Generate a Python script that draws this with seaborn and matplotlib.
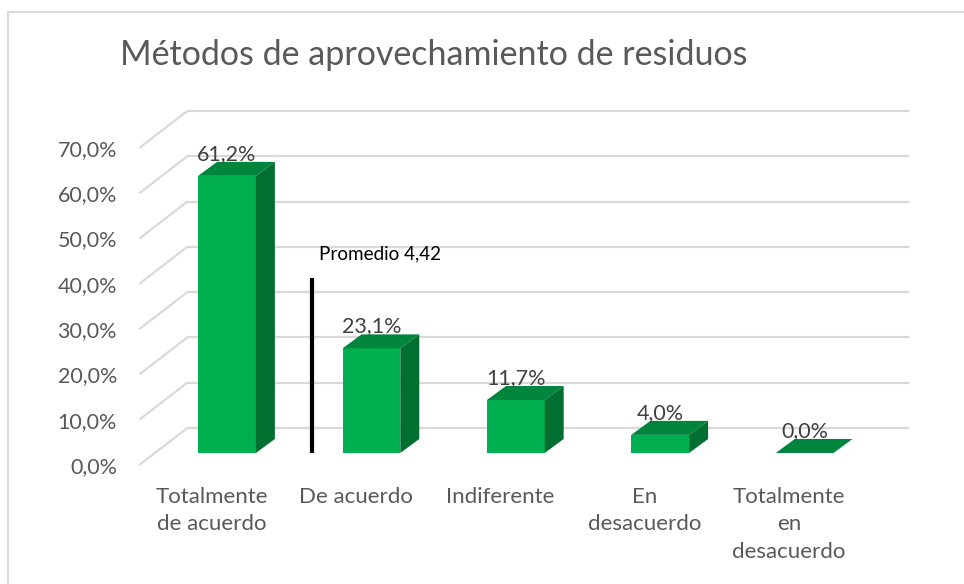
import matplotlib
matplotlib.use("Agg")
import matplotlib.pyplot as plt
import matplotlib.transforms as mtransforms
from matplotlib.lines import Line2D
from matplotlib.patches import Polygon
import seaborn as sns
import pandas as pd

# ---- data ----
categories = ["Totalmente\nde acuerdo", "De acuerdo", "Indiferente", "En\ndesacuerdo",
              "Totalmente\nen\ndesacuerdo"]
values = [61.2, 23.1, 11.7, 4.0, 0.0]
value_labels = ["61,2%", "23,1%", "11,7%", "4,0%", "0,0%"]
yticks = [0, 10, 20, 30, 40, 50, 60, 70]
ytick_labels = ["0,0%", "10,0%", "20,0%", "30,0%", "40,0%", "50,0%", "60,0%", "70,0%"]
title = "Métodos de aprovechamiento de residuos"
note_text = "Promedio 4,42"
note_line_x = 0.587
note_line_top = 38.6

sns.set_theme(style="white")
plt.rcParams["font.family"] = ["Lato", "DejaVu Sans"]

W, H = 964, 584
fig = plt.figure(figsize=(W / 100, H / 100), dpi=100)
fig.patch.set_facecolor("white")

# front plane of the 3-D box (pixels)
left_px, right_px = 139.3, 861.3
bot_px, top_px = 465, 148
ax = fig.add_axes([left_px / W, (H - bot_px) / H, (right_px - left_px) / W, (bot_px - top_px) / H])
ax.set_xlim(-0.5, 4.5)
ax.set_ylim(0, 70)
ax.patch.set_alpha(0)
for s in ax.spines.values():
    s.set_visible(False)

px_per_x = (right_px - left_px) / 5
px_per_y = (bot_px - top_px) / 70

# depth of back wall in pixels
back_dx, back_dy = 48, 37
bdx, bdy = back_dx / px_per_x, back_dy / px_per_y
grid_c = "#d9d9d9"
for v in yticks:
    ax.plot([-0.5 + bdx, 4.5 + bdx], [v + bdy, v + bdy], color=grid_c, lw=1.6,
            clip_on=False, zorder=0, solid_capstyle="butt")
    ax.plot([-0.5, -0.5 + bdx], [v, v + bdy], color=grid_c, lw=1.6,
            clip_on=False, zorder=0, solid_capstyle="butt")

df = pd.DataFrame({"cat": categories, "val": values})
sns.barplot(data=df, x="cat", y="val", color="#00b050", saturation=1, width=0.40,
            ax=ax, zorder=3)

bar_tr = mtransforms.offset_copy(ax.transData, fig=fig, x=15.5, y=12, units="dots")
ddx, ddy = 19 / px_per_x, 14 / px_per_y
top_c, side_c = "#00853d", "#006f30"
for p, lab in zip(ax.patches, value_labels):
    p.set_transform(bar_tr)
    p.set_clip_on(False)
    p.set_edgecolor("none")
    x0 = p.get_x()
    x1 = x0 + p.get_width()
    h = p.get_height()
    ax.add_patch(Polygon([(x0, h), (x1, h), (x1 + ddx, h + ddy), (x0 + ddx, h + ddy)],
                         closed=True, facecolor=top_c, edgecolor="none",
                         transform=bar_tr, clip_on=False, zorder=4))
    if h > 0:
        ax.add_patch(Polygon([(x1, 0), (x1 + ddx, ddy), (x1 + ddx, h + ddy), (x1, h)],
                             closed=True, facecolor=side_c, edgecolor="none",
                             transform=bar_tr, clip_on=False, zorder=4))
    ax.annotate(lab, xy=((x0 + x1) / 2, h), xycoords=bar_tr, xytext=(0, 16),
                textcoords="offset pixels", ha="center", va="baseline",
                fontsize=15.5, color="#404040", zorder=6)

# average marker
ax.plot([note_line_x, note_line_x], [0, note_line_top], color="black", lw=3,
        transform=bar_tr, clip_on=False, solid_capstyle="butt", zorder=5)
ax.text(note_line_x + 0.05, note_line_top + 5.3, note_text, transform=bar_tr,
        ha="left", va="center", fontsize=13.6, color="black")

ax.set_yticks(yticks)
ax.set_yticklabels(ytick_labels, fontsize=15.5, color="#595959")
ax.set_xticks(range(len(categories)))
ax.set_xticklabels(categories, fontsize=16, color="#595959", linespacing=1.45)
ax.tick_params(axis="y", length=0, pad=16)
ax.tick_params(axis="x", length=0, pad=16)
for t in ax.get_xticklabels():
    t.set_verticalalignment("top")
ax.set_xlabel("")
ax.set_ylabel("")

fig.text(120 / W, 1 - 55 / H, title, ha="left", va="center", fontsize=24.5,
         color="#595959")

# chart border (top and left visible)
fig.add_artist(Line2D([7.5 / W, 7.5 / W], [0, 1 - 12 / H], color=grid_c, lw=1.5,
                      transform=fig.transFigure))
fig.add_artist(Line2D([7.5 / W, 1], [1 - 12 / H, 1 - 12 / H], color=grid_c, lw=1.5,
                      transform=fig.transFigure))

fig.savefig("out.png", dpi=100, facecolor="white")
